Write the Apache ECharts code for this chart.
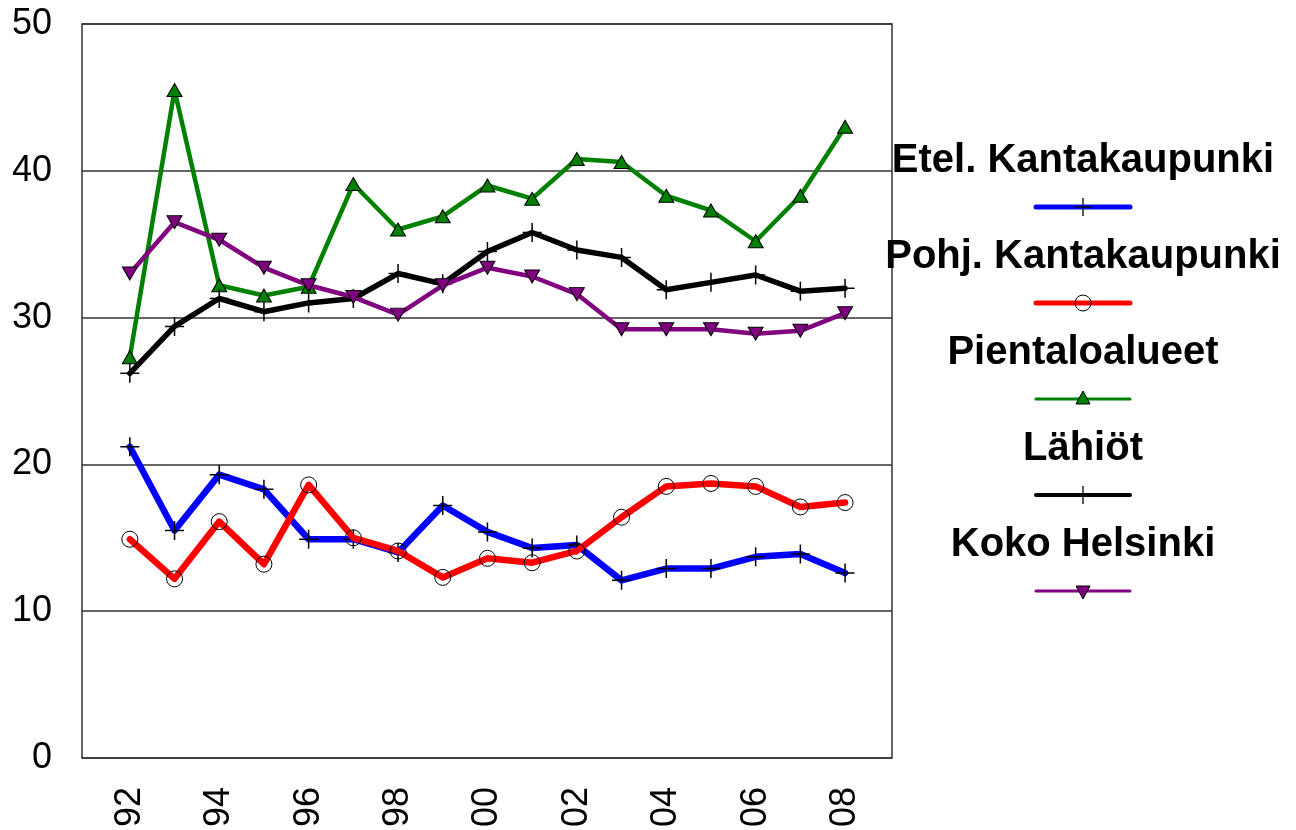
<!DOCTYPE html>
<html>
<head>
<meta charset="utf-8">
<script src="https://cdn.jsdelivr.net/npm/echarts@6/dist/echarts.min.js"></script>
<style>
html, body { margin: 0; padding: 0; background: #fff; }
#chart { width: 1296px; height: 830px; }
</style>
</head>
<body>
<div id="chart"></div>
<script>
// vuodet 1992-2008
var years = [1992, 1993, 1994, 1995, 1996, 1997, 1998, 1999, 2000, 2001, 2002, 2003, 2004, 2005, 2006, 2007, 2008];
var yearTicks = [1992, 1994, 1996, 1998, 2000, 2002, 2004, 2006, 2008];
var yTicks = [0, 10, 20, 30, 40, 50];

var names = ['Etel. Kantakaupunki', 'Pohj. Kantakaupunki', 'Pientaloalueet', 'Lähiöt', 'Koko Helsinki'];
var etel = [21.2, 15.5, 19.3, 18.3, 14.9, 14.9, 14.0, 17.2, 15.4, 14.3, 14.5, 12.1, 12.9, 12.9, 13.7, 13.9, 12.6];
var pohj = [14.9, 12.2, 16.1, 13.2, 18.6, 15.0, 14.1, 12.3, 13.6, 13.3, 14.1, 16.4, 18.5, 18.7, 18.5, 17.1, 17.4];
var pienta = [27.3, 45.5, 32.2, 31.5, 32.1, 39.1, 36.0, 36.9, 39.0, 38.1, 40.8, 40.6, 38.3, 37.3, 35.2, 38.3, 43.0];
var lahiot = [26.2, 29.4, 31.3, 30.4, 31.0, 31.3, 33.0, 32.3, 34.5, 35.8, 34.6, 34.1, 31.9, 32.4, 32.9, 31.8, 32.0];
var koko = [33.0, 36.5, 35.3, 33.4, 32.2, 31.4, 30.2, 32.2, 33.4, 32.8, 31.6, 29.2, 29.2, 29.2, 28.9, 29.1, 30.3];

var colors = ['#0000ff', '#ff0000', '#008000', '#000000', '#800080'];
var widths = [6.5, 6.5, 4.5, 5.5, 4.5];
var plusPath = 'path://M9,0L9,18M0,9L18,9';

function pairs(vals) {
  var out = [];
  for (var i = 0; i < years.length; i++) out.push([years[i], vals[i]]);
  return out;
}

function markerOpts(idx) {
  if (idx == 0 || idx == 3) { // risti
    return { symbol: plusPath, symbolSize: 19, itemStyle: { color: 'none', borderColor: '#000', borderWidth: 1.5 } };
  }
  if (idx == 1) { // ympyrä
    return { symbol: 'circle', symbolSize: 16, itemStyle: { color: 'rgba(0,0,0,0)', borderColor: '#000', borderWidth: 1 } };
  }
  if (idx == 2) {
    return { symbol: 'triangle', symbolSize: [15, 13], itemStyle: { color: colors[2], borderColor: '#000', borderWidth: 1 } };
  }
  return { symbol: 'triangle', symbolSize: [15, 13], symbolRotate: 180, itemStyle: { color: colors[4], borderColor: '#000', borderWidth: 1 } };
}

var allData = [etel, pohj, pienta, lahiot, koko];
var series = [];
for (var s = 0; s < allData.length; s++) {
  var m = markerOpts(s);
  series.push({
    name: names[s],
    type: 'line',
    data: pairs(allData[s]),
    symbol: m.symbol,
    symbolSize: m.symbolSize,
    symbolRotate: m.symbolRotate || 0,
    showAllSymbol: true,
    itemStyle: m.itemStyle,
    lineStyle: { color: colors[s], width: widths[s], join: 'round', cap: 'round' },
    z: 2 + s,
    animation: false
  });
}

// selite: teksti ylhäällä, viiva ja merkki alla
var legendX = 1083;
var graphics = [];
for (var k = 0; k < names.length; k++) {
  var ty = 140.5 + 96.1 * k;
  var ly = 207 + 96 * k;
  graphics.push({
    type: 'text', x: legendX, y: ty,
    style: { text: names[k], fill: '#000', font: 'bold 40px "Liberation Sans", Arial, sans-serif', textAlign: 'center', textVerticalAlign: 'top' }
  });
  graphics.push({
    type: 'line',
    shape: { x1: legendX - 47, y1: ly, x2: legendX + 47, y2: ly },
    style: { stroke: colors[k], lineWidth: widths[k] - 1.5, lineCap: 'round' }
  });
  if (k == 0 || k == 3) {
    graphics.push({ type: 'line', shape: { x1: legendX, y1: ly - 9, x2: legendX, y2: ly + 9 }, style: { stroke: '#000', lineWidth: 1.3 } });
    graphics.push({ type: 'line', shape: { x1: legendX - 9, y1: ly, x2: legendX + 9, y2: ly }, style: { stroke: '#000', lineWidth: 1.3 } });
  } else if (k == 1) {
    graphics.push({ type: 'circle', shape: { cx: legendX, cy: ly, r: 8 }, style: { fill: 'none', stroke: '#000', lineWidth: 1 } });
  } else if (k == 2) {
    graphics.push({ type: 'polygon', shape: { points: [[legendX, ly - 8], [legendX + 7, ly + 5], [legendX - 7, ly + 5]] }, style: { fill: colors[2], stroke: '#000', lineWidth: 1 } });
  } else {
    graphics.push({ type: 'polygon', shape: { points: [[legendX, ly + 8], [legendX + 7, ly - 5], [legendX - 7, ly - 5]] }, style: { fill: colors[4], stroke: '#000', lineWidth: 1 } });
  }
}

var myChart = echarts.init(document.getElementById('chart'), null, { renderer: 'canvas' });
myChart.setOption({
  animation: false,
  backgroundColor: '#fff',
  grid: { left: 82, top: 24, right: 404, bottom: 72, show: true, borderColor: '#333', borderWidth: 1.5, backgroundColor: 'transparent' },
  xAxis: {
    type: 'value',
    min: 1990.93,
    max: 2009.05,
    axisLine: { show: false },
    axisTick: { show: false },
    splitLine: { show: false },
    axisLabel: {
      customValues: yearTicks,
      rotate: 90,
      margin: 29,
      color: '#000',
      fontSize: 36,
      fontFamily: '"Liberation Sans", Arial, sans-serif',
      formatter: function(v) { return String(v % 100).padStart(2, '0'); }
    }
  },
  yAxis: {
    type: 'value',
    min: 0,
    max: 50,
    interval: 10,
    axisLine: { show: false },
    axisTick: { show: false },
    splitLine: { show: true, lineStyle: { color: '#333', width: 1.5 } },
    axisLabel: {
      customValues: yTicks,
      margin: 30,
      color: '#000',
      fontSize: 36,
      fontFamily: '"Liberation Sans", Arial, sans-serif'
    }
  },
  series: series,
  graphic: graphics
});
</script>
</body>
</html>
